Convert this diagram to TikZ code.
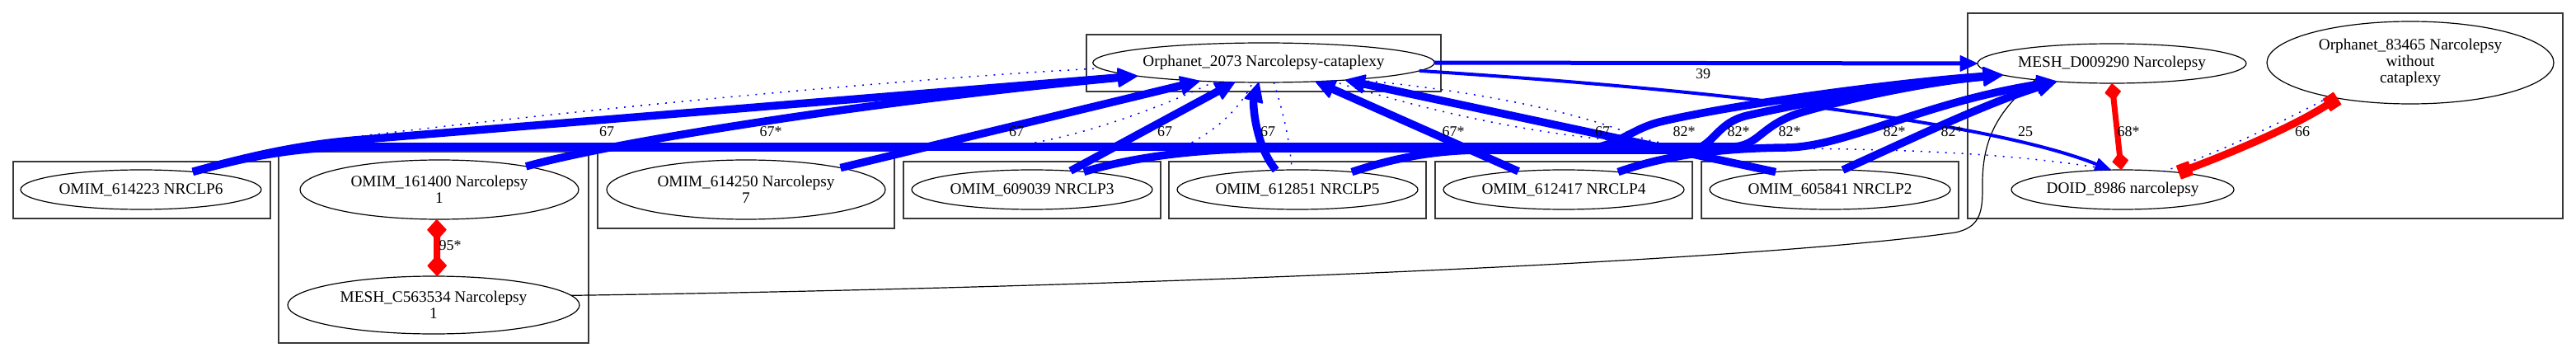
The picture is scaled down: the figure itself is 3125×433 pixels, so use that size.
\documentclass[tikz,border=0pt]{standalone}
\usepackage{fontspec}
\setmainfont{Liberation Serif}
\usetikzlibrary{shapes.geometric,arrows.meta}
\newcommand{\ndfont}{\fontsize{19.3pt}{20pt}\selectfont}
\newcommand{\lbfont}{\fontsize{18pt}{20pt}\selectfont}
\begin{document}
\begin{tikzpicture}[x=1pt,y=-1pt,
  nd/.style={ellipse,draw,line width=1.2pt,inner sep=0pt,outer sep=0pt,align=center,font=\ndfont},
  cl/.style={draw=black!78,line width=1.3pt},
  lb/.style={font=\lbfont,inner sep=0pt},
  ba/.style={draw=blue,line width=9.5pt,-{Triangle[length=25pt,width=24pt,line width=2pt,round]}},
  dt/.style={draw=blue,line width=1.5pt,dash pattern=on 2pt off 8pt},
  blk/.style={draw=black,line width=1.2pt}]
\useasboundingbox (0,0) rectangle (3125,433);
% clusters
\draw[cl] (16,196) rectangle (328,265);
\draw[cl] (338,184) rectangle (714,416);
\draw[cl] (725,183) rectangle (1085,277);
\draw[cl] (1096,196) rectangle (1408,265);
\draw[cl] (1418,196) rectangle (1730,265);
\draw[cl] (1741,196) rectangle (2053,265);
\draw[cl] (2064,196) rectangle (2376,265);
\draw[cl] (1318,42) rectangle (1748,111);
\draw[cl] (2387,16) rectangle (3109,265);
% nodes
\node[nd,minimum width=292pt,minimum height=48pt] (o614223) at (171,230) {OMIM\_614223 NRCLP6};
\node[nd,minimum width=338pt,minimum height=72pt] (o161400) at (533,230) {OMIM\_161400 Narcolepsy\\1};
\node[nd,minimum width=354pt,minimum height=70pt] (m563534) at (526,370) {MESH\_C563534 Narcolepsy\\1};
\node[nd,minimum width=338pt,minimum height=72pt] (o614250) at (905,230) {OMIM\_614250 Narcolepsy\\7};
\node[nd,minimum width=292pt,minimum height=48pt] (o609039) at (1252,230) {OMIM\_609039 NRCLP3};
\node[nd,minimum width=292pt,minimum height=48pt] (o612851) at (1574,230) {OMIM\_612851 NRCLP5};
\node[nd,minimum width=292pt,minimum height=48pt] (o612417) at (1897,230) {OMIM\_612417 NRCLP4};
\node[nd,minimum width=292pt,minimum height=48pt] (o605841) at (2220,230) {OMIM\_605841 NRCLP2};
\node[nd,minimum width=408pt,minimum height=48pt] (orph) at (1533,76) {Orphanet\_2073 Narcolepsy-cataplexy};
\node[nd,minimum width=326pt,minimum height=48pt] (md) at (2562,77) {MESH\_D009290 Narcolepsy};
\node[nd,minimum width=348pt,minimum height=100pt] (o83465) at (2924,76) {Orphanet\_83465 Narcolepsy\\without\\cataplexy};
\node[nd,minimum width=270pt,minimum height=48pt] (doid) at (2575,230) {DOID\_8986 narcolepsy};
% dotted edges
\draw[dt] (o614223.19) .. controls (290,192) and (340,178) .. (413,168) .. controls (700,133) and (1100,95) .. (orph.182);
\draw[dt] (o161400.15.3) -- (745,178) -- (1250,174) .. controls (1330,160) and (1420,125) .. (orph.201);
\draw[dt] (o614250.13.5) -- (1130,177) -- (1440,176) .. controls (1480,155) and (1505,130) .. (orph.241.5);
\draw[dt] (orph.-63.4) .. controls (1555,130) and (1565,170) .. (o612851.106);
\draw[dt] (orph.-11.8) .. controls (1750,105) and (1900,130) .. (1985,165) .. controls (2020,180) and (2100,180) .. (2170,180) .. controls (2300,181) and (2440,185) .. (doid.117);
\draw[dt] (orph.-15.2) .. controls (1700,125) and (1850,165) .. (1999,173) -- (o605841.162.4);
\draw[dt] (o83465.203.2) .. controls (2760,152) and (2690,186) .. (doid.24);
% black edge
\draw[blk] (m563534.4) .. controls (1300,350) and (2100,320) .. (2372,282) .. controls (2400,276) and (2405,260) .. (2405,230) .. controls (2404,180) and (2415,140) .. (md.192);
% thick blue edges to Orphanet_2073
\draw[ba] (o614223.19) .. controls (300,190) and (360,176) .. (430,170) -- (orph.186.6);
\draw[ba] (o161400.15.3) .. controls (760,168) and (1100,118) .. (orph.186.6);
\draw[ba] (o614250.13.5) -- (orph.-164.8);
\draw[ba] (o609039.26.9) -- (orph.-146);
\draw[ba] (o612851.138.8) .. controls (1522,175) and (1520,125) .. (orph.-104);
\draw[ba] (o612417.158.4) -- (orph.-20.9);
\draw[ba] (o605841.162.4) -- (orph.-12.4);
% thick blue edges to MESH_D009290
\draw[ba] (o614223.19) .. controls (300,190) and (360,178) .. (440,178) -- (2100,178) .. controls (2135,178) and (2135,150) .. (2190,135) .. controls (2260,115) and (2350,98) .. (md.186.5);
\draw[ba] (o609039.19.7) .. controls (1350,198) and (1420,181) .. (1540,180) -- (1920,180) .. controls (1960,180) and (1975,158) .. (2013,148) .. controls (2100,127) and (2300,100) .. (md.186.5);
\draw[ba] (o612851.18.3) .. controls (1690,192) and (1740,182) .. (1800,182) -- (2045,182) .. controls (2080,182) and (2078,150) .. (2120,140) .. controls (2220,118) and (2330,100) .. (md.186.5);
\draw[ba] (o612417.18) .. controls (2010,192) and (2070,180) .. (2167,179) .. controls (2240,178) and (2330,125) .. (md.198.7);
\draw[ba] (o605841.57) .. controls (2320,168) and (2410,125) .. (md.198.7);
% thinner blue edges
\draw[draw=blue,line width=5pt,-{Triangle[length=22pt,width=20pt,line width=1pt,round]}] (orph.0) -- (md.180);
\draw[draw=blue,line width=4pt,-{Triangle[length=20pt,width=16pt,line width=1pt,round]}] (orph.-3) .. controls (2100,110) and (2420,150) .. (doid.121);
% red edges
\draw[draw=red,line width=8pt,{Diamond[length=26pt,width=24pt,line width=1pt,round]}-{Diamond[length=26pt,width=24pt,line width=1pt,round]}] (o161400.-95) -- (m563534.83.5);
\draw[draw=red,line width=7pt,{Diamond[length=22pt,width=20pt,line width=1pt,round]}-{Diamond[length=22pt,width=20pt,line width=1pt,round]}] (md.-90) -- (doid.94.8);
\draw[draw=red,line width=9pt,{Square[length=16pt,width=18pt,line width=1pt,round]}-{Square[length=16pt,width=18pt,line width=1pt,round]}] (o83465.206.5) .. controls (2780,155) and (2700,188) .. (doid.17);
% labels
\node[lb] (l1) at (736,160) {67};
\node[lb] (l2) at (935,160) {67*};
\node[lb] (l3) at (1233,160) {67};
\node[lb] (l4) at (1413,160) {67};
\node[lb] (l5) at (1538,160) {67};
\node[lb] (l6) at (1763,160) {67*};
\node[lb] (l7) at (1944,160) {67};
\node[lb] (l8) at (2043,160) {82*};
\node[lb] (l9) at (2109,160) {82*};
\node[lb] (l10) at (2171,160) {82*};
\node[lb] (l11) at (2298,160) {82*};
\node[lb] (l12) at (2368,160) {82*};
\node[lb] (l13) at (2066,90) {39};
\node[lb] (l14) at (2457,160) {25};
\node[lb] (l15) at (2582,160) {68*};
\node[lb] (l16) at (2793,160) {66};
\node[lb] (l17) at (546,298) {95*};
\end{tikzpicture}
\end{document}
